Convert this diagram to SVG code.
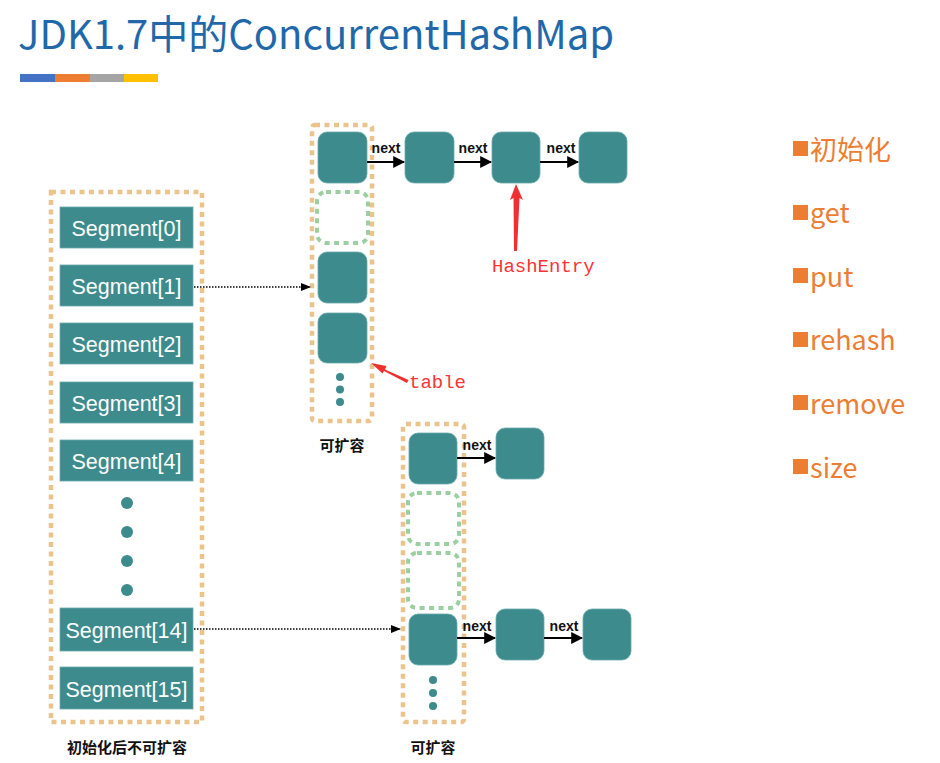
<svg xmlns="http://www.w3.org/2000/svg" width="940" height="763" viewBox="0 0 940 763">
<defs>
<style>
.box{fill:none;stroke:#EBC38D;stroke-width:4.5;stroke-dasharray:5 4.5}
.ghost{fill:none;stroke:#9BCFA2;stroke-width:4;stroke-dasharray:5 4.5}
.cell{fill:#3D8B8D;stroke:#6AAAAC;stroke-width:0.8}
.seg{fill:#3D8B8D;stroke:#6AAAAC;stroke-width:0.8}
.segt{font-family:"Liberation Sans",Arial,sans-serif;font-size:21.5px;fill:#fff;text-anchor:middle}
.dot{fill:#3D8B8D}
.nx{font-family:"Liberation Sans",Arial,sans-serif;font-size:14px;font-weight:bold;fill:#111;text-anchor:middle}
.cap{font-family:"Noto Sans CJK SC","Liberation Sans",sans-serif;font-size:15px;font-weight:bold;fill:#111;text-anchor:middle}
.arr{stroke:#000;stroke-width:2;fill:none;marker-end:url(#ah)}
.dash{stroke:#000;stroke-width:1.5;stroke-dasharray:1.5 1.5;fill:none;marker-end:url(#ah2)}
.red{font-family:"Liberation Mono","DejaVu Sans Mono",monospace;font-size:19px;fill:#FF3333}
.li{font-family:"Noto Sans CJK SC","Open Sans",sans-serif;font-size:27px;fill:#ED7D31}
.lb{fill:#ED7D31}
</style>
<marker id="ah" viewBox="0 0 10 10" refX="9" refY="5" markerWidth="6" markerHeight="6" markerUnits="strokeWidth" orient="auto"><path d="M0,0 L10,5 L0,10 z" fill="#000"/></marker>
<marker id="ah2" viewBox="0 0 10 10" refX="9" refY="5" markerWidth="7" markerHeight="7" markerUnits="strokeWidth" orient="auto"><path d="M0,1 L10,5 L0,9 z" fill="#000"/></marker>
</defs>
<rect width="940" height="763" fill="#fff"/>

<g id="title">
<text x="18" y="49" font-family="Noto Sans CJK SC,Open Sans,sans-serif" font-size="40" fill="#1F69AA" textLength="596" lengthAdjust="spacingAndGlyphs">JDK1.7中的ConcurrentHashMap</text>
<rect x="20" y="74" width="35" height="8" fill="#4472C4"/>
<rect x="55" y="74" width="35" height="8" fill="#ED7D31"/>
<rect x="90" y="74" width="34" height="8" fill="#A5A5A5"/>
<rect x="124" y="74" width="34" height="8" fill="#FFC000"/>
</g>

<g id="segments">
<rect class="box" x="51" y="192" width="151" height="530"/>
<g id="seg0"><rect class="seg" x="60" y="207" width="133" height="41"/><text class="segt" x="126.5" y="235.5">Segment[0]</text></g>
<g id="seg1"><rect class="seg" x="60" y="265" width="133" height="41"/><text class="segt" x="126.5" y="293.5">Segment[1]</text></g>
<g id="seg2"><rect class="seg" x="60" y="323" width="133" height="41"/><text class="segt" x="126.5" y="351.5">Segment[2]</text></g>
<g id="seg3"><rect class="seg" x="60" y="382" width="133" height="41"/><text class="segt" x="126.5" y="410.5">Segment[3]</text></g>
<g id="seg4"><rect class="seg" x="60" y="440" width="133" height="41"/><text class="segt" x="126.5" y="468.5">Segment[4]</text></g>
<circle class="dot" cx="127" cy="503" r="6"/>
<circle class="dot" cx="127" cy="532" r="6"/>
<circle class="dot" cx="127" cy="561" r="6"/>
<circle class="dot" cx="127" cy="590" r="6"/>
<g id="seg14"><rect class="seg" x="60" y="608" width="133" height="43"/><text class="segt" x="126.5" y="637.5">Segment[14]</text></g>
<g id="seg15"><rect class="seg" x="60" y="667" width="133" height="42"/><text class="segt" x="126.5" y="696.5">Segment[15]</text></g>
<text class="cap" x="127" y="753">初始化后不可扩容</text>
</g>

<g id="table1">
<rect class="box" x="312" y="125" width="60" height="296" rx="3"/>
<rect class="cell" x="318" y="132" width="49" height="51" rx="9"/>
<rect class="ghost" x="317" y="192" width="51" height="51" rx="9"/>
<rect class="cell" x="318" y="252" width="49" height="51" rx="9"/>
<rect class="cell" x="318" y="313" width="49" height="50" rx="9"/>
<circle class="dot" cx="340" cy="377" r="4"/>
<circle class="dot" cx="340" cy="389.5" r="4"/>
<circle class="dot" cx="340" cy="402" r="4"/>
<text class="cap" x="342" y="451">可扩容</text>
</g>

<g id="chain1">
<rect class="cell" x="405" y="132" width="49" height="51" rx="9"/>
<rect class="cell" x="492" y="132" width="48" height="51" rx="9"/>
<rect class="cell" x="579" y="132" width="48" height="51" rx="9"/>
</g>

<g id="table2">
<rect class="box" x="403" y="424" width="61" height="298" rx="3"/>
<rect class="cell" x="409" y="433" width="48" height="51" rx="9"/>
<rect class="ghost" x="408" y="493" width="51" height="51" rx="9"/>
<rect class="ghost" x="408" y="553" width="51" height="55" rx="9"/>
<rect class="cell" x="409" y="614" width="48" height="51" rx="9"/>
<circle class="dot" cx="433" cy="680" r="4"/>
<circle class="dot" cx="433" cy="693" r="4"/>
<circle class="dot" cx="433" cy="706" r="4"/>
<text class="cap" x="433" y="753">可扩容</text>
</g>

<g id="chain2">
<rect class="cell" x="496" y="428" width="48" height="51" rx="9"/>
<rect class="cell" x="496" y="609" width="48" height="51" rx="9"/>
<rect class="cell" x="583" y="609" width="48" height="51" rx="9"/>
</g>

<g id="connectors">
<path class="dash" d="M194,287 H310"/>
<path class="dash" d="M194,629 H400"/>
<path class="arr" d="M367,162 H404"/>
<path class="arr" d="M454,162 H491"/>
<path class="arr" d="M540,162 H578"/>
<path class="arr" d="M457,458 H495"/>
<path class="arr" d="M457,638 H495"/>
<path class="arr" d="M544,638 H582"/>
<text class="nx" x="386" y="153">next</text>
<text class="nx" x="473" y="153">next</text>
<text class="nx" x="561" y="153">next</text>
<text class="nx" x="477" y="450">next</text>
<text class="nx" x="477" y="631">next</text>
<text class="nx" x="564" y="631">next</text>
<path d="M514,251 L517,251 L519.5,198 L523,200 L516,184 L510,200 L513.5,198 Z" fill="#F03030"/>
<path d="M407,383 L408.5,380 L385,369.5 L386.5,366 L371,363 L382.5,373.5 L384,371 Z" fill="#F03030"/>
</g>

<g id="labels">
<text class="red" x="492" y="272">HashEntry</text>
<text class="red" x="409" y="388">table</text>
</g>

<g id="list">
<rect class="lb" x="793" y="141" width="15" height="15"/><text class="li" x="810" y="160">初始化</text>
<rect class="lb" x="793" y="205" width="15" height="15"/><text class="li" x="810" y="223">get</text>
<rect class="lb" x="793" y="268" width="15" height="15"/><text class="li" x="810" y="287">put</text>
<rect class="lb" x="793" y="332" width="15" height="15"/><text class="li" x="810" y="350">rehash</text>
<rect class="lb" x="793" y="395" width="15" height="15"/><text class="li" x="810" y="414">remove</text>
<rect class="lb" x="793" y="459" width="15" height="15"/><text class="li" x="810" y="478">size</text>
</g>
</svg>
